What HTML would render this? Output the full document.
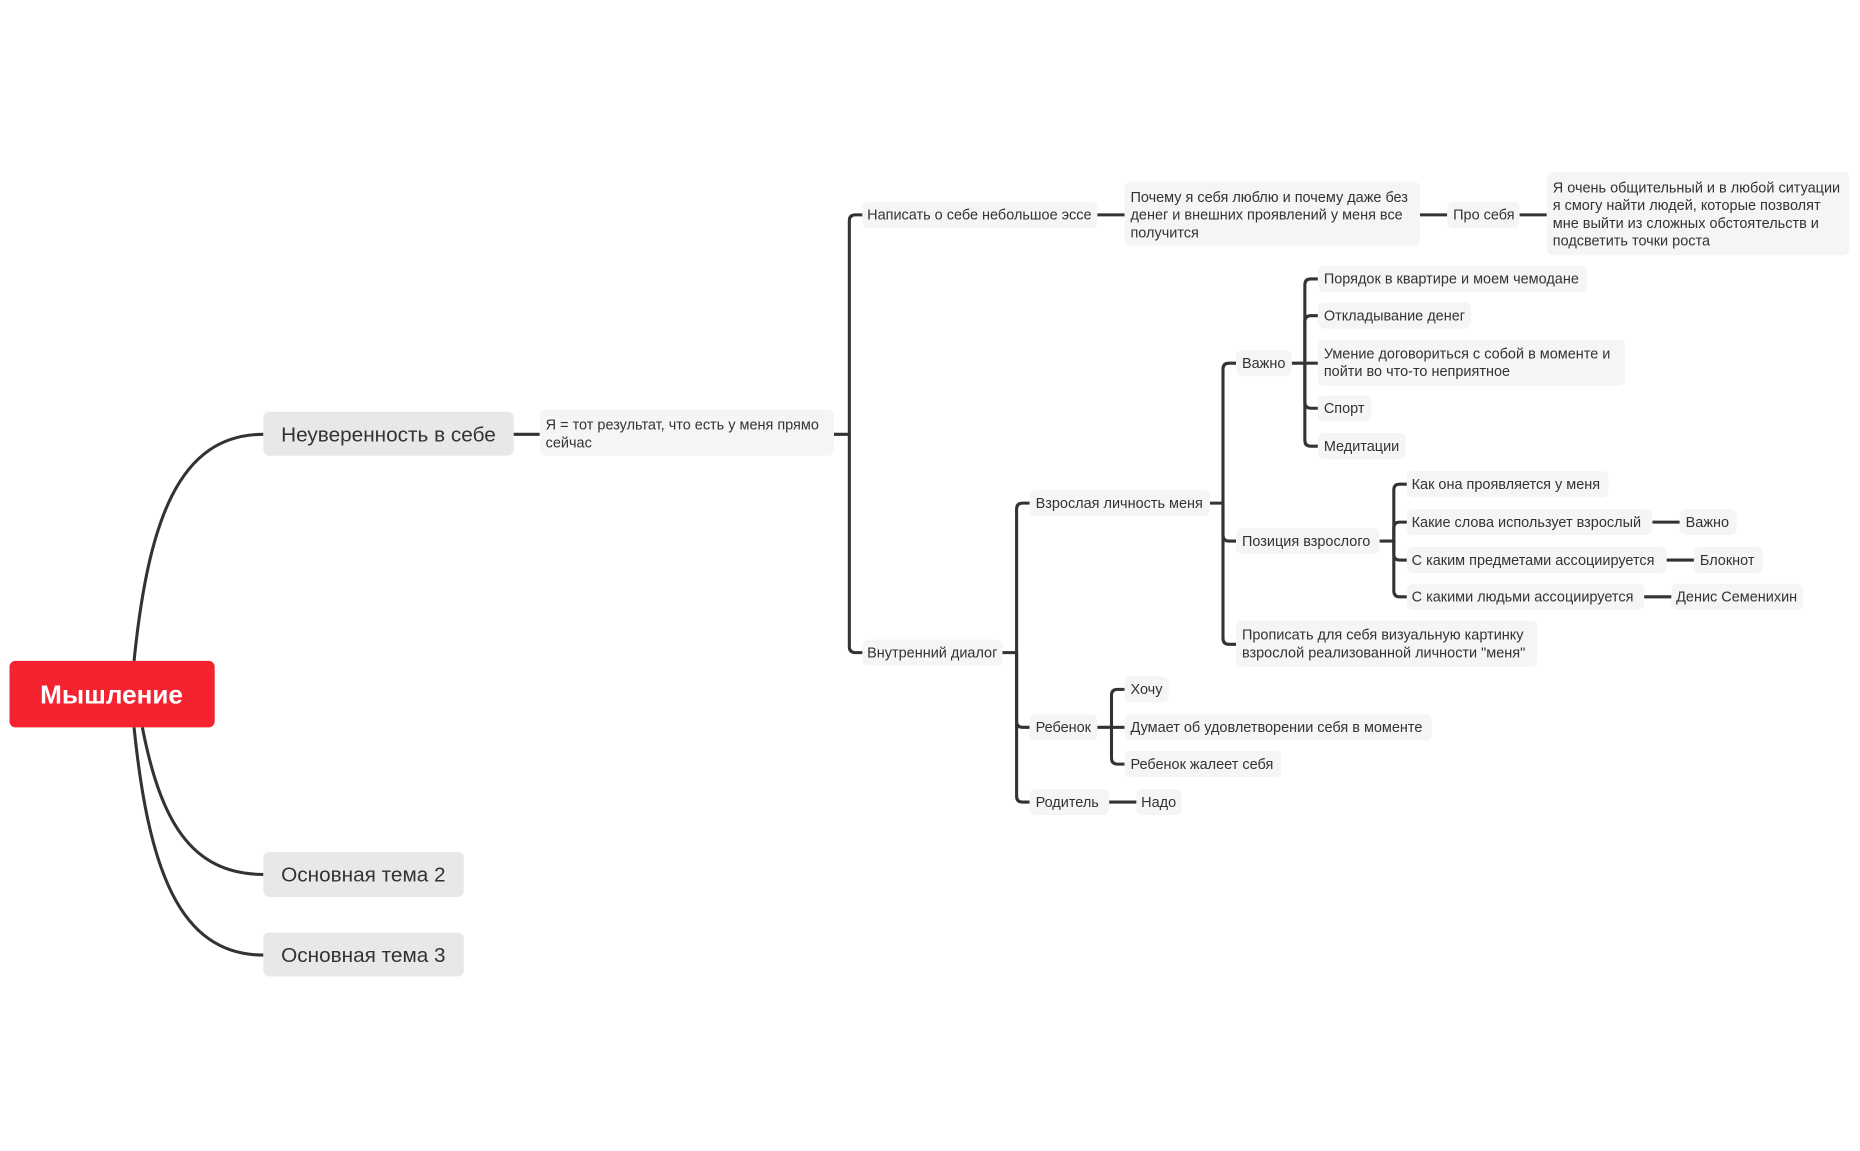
<!DOCTYPE html>
<html><head><meta charset="utf-8"><style>
html,body{margin:0;padding:0;background:#fff;}
svg{display:block;}
text{font-family:"Liberation Sans","DejaVu Sans",sans-serif;fill:#333;}
.s{font-size:12.2px;}
.m{font-size:17.5px;}
.n{fill:#f5f5f5;}
.t{fill:#e8e8e8;}
path{fill:none;stroke:#333;stroke-width:2.6;}
</style></head><body>
<svg width="1860" height="1151" viewBox="0 0 1568 970" xmlns="http://www.w3.org/2000/svg">
<path d="M113 557 C125 440 150 366 222 366"/>
<path d="M120 613 C135 690 160 737 222 737"/>
<path d="M113 613 C125 730 150 805 222 805"/>
<path d="M433 366 H455"/>
<path d="M703 366 H716 V186 Q716 181 721 181 H727"/>
<path d="M716 366 V545 Q716 550 721 550 H727"/>
<path d="M925 181 H948"/>
<path d="M1197 181 H1220"/>
<path d="M1281 181 H1304"/>
<path d="M845 550 H857 V429 Q857 424 862 424 H868"/>
<path d="M857 550 V608 Q857 613 862 613 H868"/>
<path d="M857 550 V671 Q857 676 862 676 H868"/>
<path d="M1020 424 H1031 V311 Q1031 306 1036 306 H1042"/>
<path d="M1031 424 V451 Q1031 456 1036 456 H1042"/>
<path d="M1031 424 V538 Q1031 543 1036 543 H1042"/>
<path d="M1089 306 H1100 V240 Q1100 235 1105 235 H1111"/>
<path d="M1100 306 V271 Q1100 266 1105 266 H1111"/>
<path d="M1100 306 H1111"/>
<path d="M1100 306 V339 Q1100 344 1105 344 H1111"/>
<path d="M1100 306 V371 Q1100 376 1105 376 H1111"/>
<path d="M1163 456 H1175 V413 Q1175 408 1180 408 H1186"/>
<path d="M1175 456 V445 Q1175 440 1180 440 H1186"/>
<path d="M1175 456 V467 Q1175 472 1180 472 H1186"/>
<path d="M1175 456 V498 Q1175 503 1180 503 H1186"/>
<path d="M1393 440 H1416"/>
<path d="M1405 472 H1428"/>
<path d="M1386 503 H1409"/>
<path d="M925 613 H937 V586 Q937 581 942 581 H948"/>
<path d="M937 613 H948"/>
<path d="M937 613 V639 Q937 644 942 644 H948"/>
<path d="M935 676 H958"/>
<rect x="8" y="557" width="173" height="56" rx="5" fill="#f52230"/>
<text x="94" y="593" text-anchor="middle" style="font-size:22px;font-weight:bold;fill:#fff">Мышление</text>
<rect class="t" x="222" y="347" width="211" height="37" rx="5"/>
<text class="m" x="237" y="372">Неуверенность в себе</text>
<rect class="t" x="222" y="718" width="169" height="38" rx="5"/>
<text class="m" x="237" y="743">Основная тема 2</text>
<rect class="t" x="222" y="786" width="169" height="37" rx="5"/>
<text class="m" x="237" y="811">Основная тема 3</text>
<rect class="n" x="455" y="345" width="248" height="39" rx="5"/>
<text class="s" x="460" y="362">Я = тот результат, что есть у меня прямо</text>
<text class="s" x="460" y="377">сейчас</text>
<rect class="n" x="727" y="170" width="198" height="22" rx="5"/>
<text class="s" x="731" y="185">Написать о себе небольшое эссе</text>
<rect class="n" x="948" y="153" width="249" height="54" rx="5"/>
<text class="s" x="953" y="170">Почему я себя люблю и почему даже без</text>
<text class="s" x="953" y="185">денег и внешних проявлений у меня все</text>
<text class="s" x="953" y="200">получится</text>
<rect class="n" x="1220" y="170" width="61" height="22" rx="5"/>
<text class="s" x="1225" y="185">Про себя</text>
<rect class="n" x="1304" y="145" width="255" height="70" rx="5"/>
<text class="s" x="1309" y="162">Я очень общительный и в любой ситуации</text>
<text class="s" x="1309" y="177">я смогу найти людей, которые позволят</text>
<text class="s" x="1309" y="192">мне выйти из сложных обстоятельств и</text>
<text class="s" x="1309" y="207">подсветить точки роста</text>
<rect class="n" x="727" y="539" width="118" height="22" rx="5"/>
<text class="s" x="731" y="554">Внутренний диалог</text>
<rect class="n" x="868" y="413" width="152" height="22" rx="5"/>
<text class="s" x="873" y="428">Взрослая личность меня</text>
<rect class="n" x="1042" y="295" width="47" height="22" rx="5"/>
<text class="s" x="1047" y="310">Важно</text>
<rect class="n" x="1111" y="224" width="227" height="22" rx="5"/>
<text class="s" x="1116" y="239">Порядок в квартире и моем чемодане</text>
<rect class="n" x="1111" y="255" width="129" height="22" rx="5"/>
<text class="s" x="1116" y="270">Откладывание денег</text>
<rect class="n" x="1111" y="286" width="259" height="39" rx="5"/>
<text class="s" x="1116" y="302">Умение договориться с собой в моменте и</text>
<text class="s" x="1116" y="317">пойти во что-то неприятное</text>
<rect class="n" x="1111" y="333" width="45" height="22" rx="5"/>
<text class="s" x="1116" y="348">Спорт</text>
<rect class="n" x="1111" y="365" width="74" height="22" rx="5"/>
<text class="s" x="1116" y="380">Медитации</text>
<rect class="n" x="1042" y="445" width="121" height="22" rx="5"/>
<text class="s" x="1047" y="460">Позиция взрослого</text>
<rect class="n" x="1186" y="397" width="170" height="22" rx="5"/>
<text class="s" x="1190" y="412">Как она проявляется у меня</text>
<rect class="n" x="1186" y="429" width="207" height="22" rx="5"/>
<text class="s" x="1190" y="444">Какие слова использует взрослый</text>
<rect class="n" x="1416" y="429" width="48" height="22" rx="5"/>
<text class="s" x="1421" y="444">Важно</text>
<rect class="n" x="1186" y="461" width="219" height="22" rx="5"/>
<text class="s" x="1190" y="476">С каким предметами ассоциируется</text>
<rect class="n" x="1428" y="461" width="58" height="22" rx="5"/>
<text class="s" x="1433" y="476">Блокнот</text>
<rect class="n" x="1186" y="492" width="200" height="22" rx="5"/>
<text class="s" x="1190" y="507">С какими людьми ассоциируется</text>
<rect class="n" x="1409" y="492" width="111" height="22" rx="5"/>
<text class="s" x="1413" y="507">Денис Семенихин</text>
<rect class="n" x="1042" y="523" width="254" height="39" rx="5"/>
<text class="s" x="1047" y="539">Прописать для себя визуальную картинку</text>
<text class="s" x="1047" y="554">взрослой реализованной личности "меня"</text>
<rect class="n" x="868" y="602" width="57" height="22" rx="5"/>
<text class="s" x="873" y="617">Ребенок</text>
<rect class="n" x="948" y="570" width="37" height="22" rx="5"/>
<text class="s" x="953" y="585">Хочу</text>
<rect class="n" x="948" y="602" width="259" height="22" rx="5"/>
<text class="s" x="953" y="617">Думает об удовлетворении себя в моменте</text>
<rect class="n" x="948" y="633" width="132" height="22" rx="5"/>
<text class="s" x="953" y="648">Ребенок жалеет себя</text>
<rect class="n" x="868" y="665" width="67" height="22" rx="5"/>
<text class="s" x="873" y="680">Родитель</text>
<rect class="n" x="958" y="665" width="38" height="22" rx="5"/>
<text class="s" x="962" y="680">Надо</text>
</svg>
</body></html>
